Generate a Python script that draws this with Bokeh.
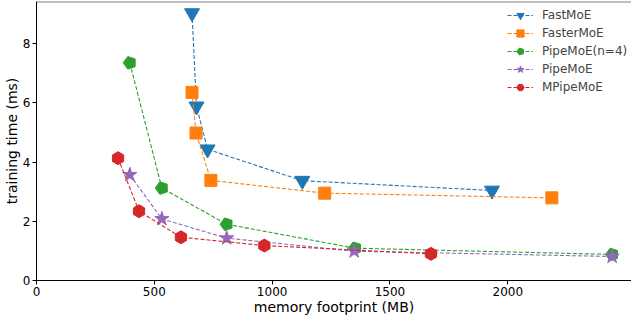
import numpy as np
from bokeh.plotting import figure
from bokeh.models import ColumnDataSource, Legend, LegendItem, Span, Range1d, FixedTicker
from bokeh.embed import file_html
from bokeh.resources import INLINE

# ---- data ----
fast_x = [660, 679, 726, 1128, 1933]
fast_y = [9.03, 5.88, 4.43, 3.37, 3.04]
faster_x = [660, 677, 740, 1223, 2187]
faster_y = [6.35, 4.98, 3.38, 2.95, 2.79]
pipe4_x = [396, 532, 807, 1352, 2443]
pipe4_y = [7.35, 3.12, 1.90, 1.09, 0.88]
pipe_x = [396, 532, 807, 1348, 2443]
pipe_y = [3.57, 2.08, 1.43, 0.99, 0.81]
mpipe_x = [346, 435, 613, 967, 1674]
mpipe_y = [4.13, 2.34, 1.46, 1.18, 0.90]

names = ["FastMoE", "FasterMoE", "PipeMoE(n=4)", "PipeMoE", "MPipeMoE"]
colors = ["#1f77b4", "#ff7f0e", "#2ca02c", "#9467bd", "#d62728"]
x_ticks = [0, 500, 1000, 1500, 2000]
y_ticks = [0, 2, 4, 6, 8]

FONT = "DejaVu Sans"
Y_END = 9.42

p = figure(width=631, height=322, output_backend="svg", toolbar_location=None,
           x_range=Range1d(0, 2525), y_range=Range1d(0, Y_END),
           min_border_left=36, min_border_right=0, min_border_top=1, min_border_bottom=42)
p.outline_line_color = None
p.xgrid.visible = False
p.ygrid.visible = False
p.background_fill_color = "white"

for ax in (p.xaxis[0], p.yaxis[0]):
    ax.axis_line_color = "black"
    ax.axis_line_width = 1
    ax.major_tick_in = 0
    ax.major_tick_out = 4
    ax.minor_tick_line_color = None
    ax.major_tick_line_color = "black"
    ax.major_label_text_font = FONT
    ax.major_label_text_font_size = "12px"
    ax.major_label_text_color = "black"
    ax.major_label_standoff = 2
    ax.axis_label_text_font = FONT
    ax.axis_label_text_font_size = "14px"
    ax.axis_label_text_font_style = "normal"
    ax.axis_label_text_color = "black"
    ax.axis_label_standoff = 0

p.xaxis.ticker = FixedTicker(ticks=x_ticks)
p.yaxis.ticker = FixedTicker(ticks=y_ticks)
p.xaxis.axis_label = "memory footprint (MB)"
p.yaxis.axis_label = "training time (ms)"

top = Span(location=Y_END, dimension="width", line_color="#808080", line_width=2)
p.add_layout(top)

series = [
    (fast_x, fast_y, "inverted_triangle", 15),
    (faster_x, faster_y, "square", 12),
    (pipe4_x, pipe4_y, "pentagon", 6.6),
    (pipe_x, pipe_y, "star", 15),
    (mpipe_x, mpipe_y, "hex", 13),
]

items = []
for (xs, ys, mk, sz), name, c in zip(series, names, colors):
    src = ColumnDataSource(dict(x=xs, y=ys))
    lr = p.line("x", "y", source=src, line_color=c, line_width=1.1, line_dash="4 2")
    if mk == "pentagon":
        mr = p.ngon(x="x", y="y", radius=sz, radius_units="screen", n=5,
                    angle=np.pi / 2, source=src, fill_color=c, line_color=c)
    elif mk == "hex":
        mr = p.scatter("x", "y", source=src, marker="hex", size=sz, angle=np.pi / 6,
                       fill_color=c, line_color=c)
    else:
        mr = p.scatter("x", "y", source=src, marker=mk, size=sz,
                       fill_color=c, line_color=c)
    items.append(LegendItem(label=name, renderers=[lr, mr]))

legend = Legend(items=items, location=(471, 184), orientation="vertical",
                border_line_color=None, background_fill_alpha=0,
                label_text_font=FONT, label_text_font_size="12px",
                glyph_width=26, glyph_height=18, label_height=18,
                label_standoff=9, spacing=0, padding=0, margin=0)
p.add_layout(legend, "center")

open("out.html", "w").write(file_html(p, INLINE))
